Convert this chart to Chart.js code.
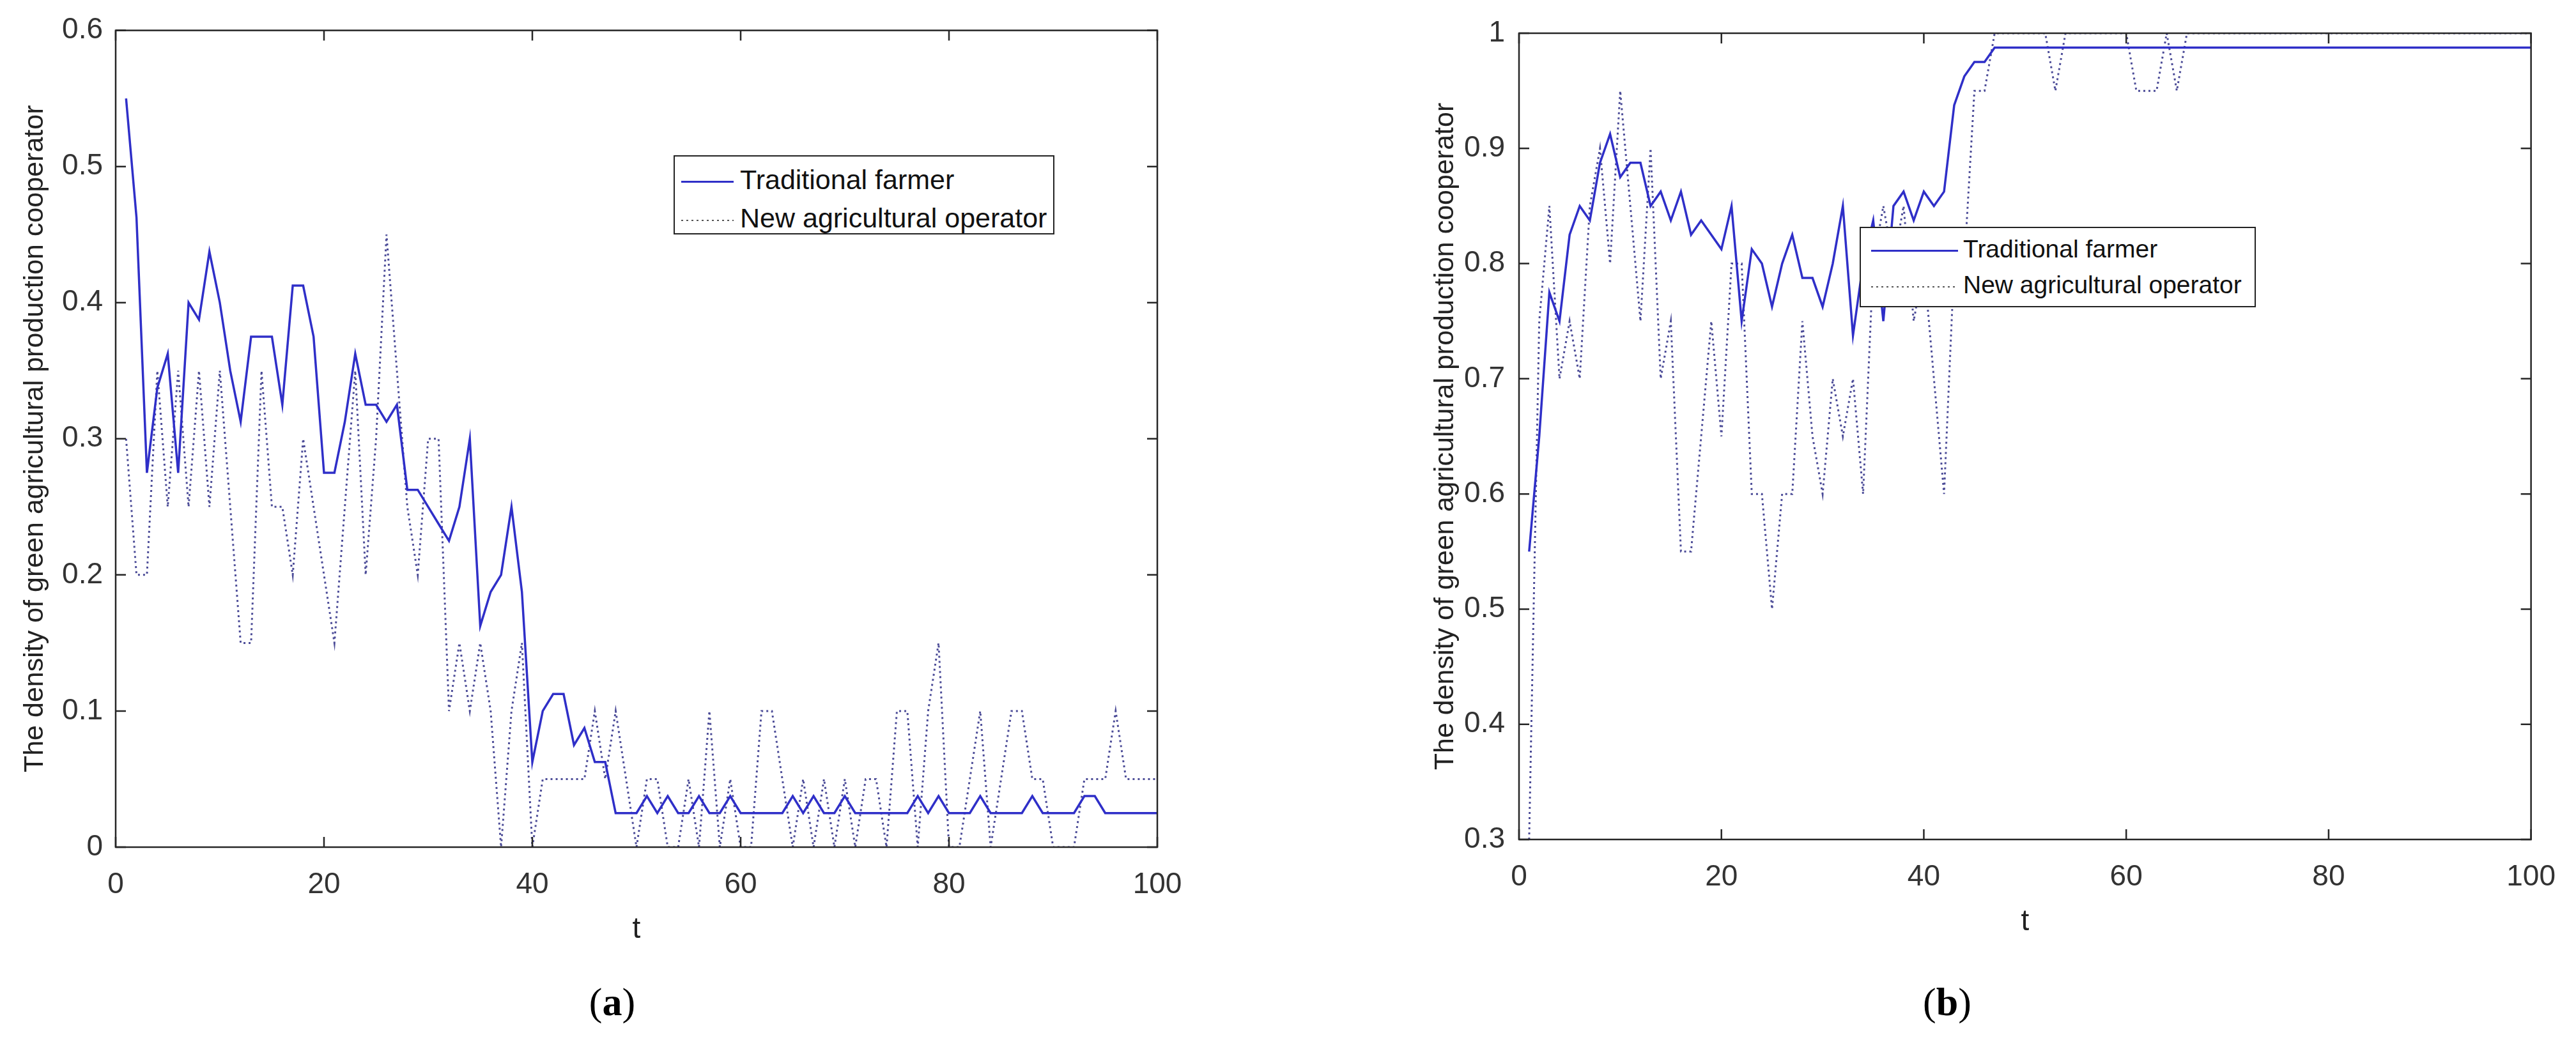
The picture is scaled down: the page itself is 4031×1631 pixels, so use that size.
<!DOCTYPE html>
<html>
<head>
<meta charset="utf-8">
<script src="https://cdn.jsdelivr.net/npm/chart.js@4.4.1/dist/chart.umd.min.js"></script>
<style>
body{margin:0;background:#fff;width:4031px;height:1631px;position:relative;overflow:hidden;font-family:"Liberation Sans",Arial,sans-serif;}
canvas{position:absolute;top:0;}
#chartA{left:0}
#chartB{left:2200px}
.legend{position:absolute;background:#fff;border:2px solid #222;box-sizing:border-box;color:#111}
.legend .row{white-space:nowrap}
.sample{display:inline-block;vertical-align:middle}
.sample.solid{height:3px;background:#2f2fc8}
.sample.dot{height:2px;background:repeating-linear-gradient(90deg,#555 0 3px,transparent 3px 8px)}
#legA{left:1054px;top:243px;width:596px;height:124px;padding-top:6px;font-size:43px}
#legA .row{height:60px;line-height:60px}
#legA .sample{width:82px;margin:0 10px}
#legB{left:2910px;top:355px;width:620px;height:126px;padding-top:5px;font-size:39px}
#legB .row{height:56px;line-height:56px}
#legB .sample{width:136px;margin:0 8px 0 16px}
.cap{position:absolute;width:200px;text-align:center;font-family:"Liberation Serif",serif;font-size:62px;line-height:80px;color:#000}
</style>
</head>
<body>
<canvas id="chartA" width="1900" height="1520"></canvas>
<canvas id="chartB" width="1831" height="1508"></canvas>

<div class="legend" id="legA">
  <div class="row"><span class="sample solid"></span>Traditional farmer</div>
  <div class="row"><span class="sample dot"></span>New agricultural operator</div>
</div>
<div class="legend" id="legB">
  <div class="row"><span class="sample solid"></span>Traditional farmer</div>
  <div class="row"><span class="sample dot"></span>New agricultural operator</div>
</div>

<div class="cap" style="left:858px;top:1528px">(<b>a</b>)</div>
<div class="cap" style="left:2947px;top:1528px">(<b>b</b>)</div>

<script>
// time steps
const tSteps = [1,2,3,4,5,6,7,8,9,10,11,12,13,14,15,16,17,18,19,20,
  21,22,23,24,25,26,27,28,29,30,31,32,33,34,35,36,37,38,39,40,
  41,42,43,44,45,46,47,48,49,50,51,52,53,54,55,56,57,58,59,60,
  61,62,63,64,65,66,67,68,69,70,71,72,73,74,75,76,77,78,79,80,
  81,82,83,84,85,86,87,88,89,90,91,92,93,94,95,96,97,98,99,100];

// (a)
const farmerA = [0.55,0.4625,0.275,0.3375,0.3625,0.275,0.4,0.3875,0.4375,0.4,
  0.35,0.3125,0.375,0.375,0.375,0.325,0.4125,0.4125,0.375,0.275,
  0.275,0.3125,0.3625,0.325,0.325,0.3125,0.325,0.2625,0.2625,0.25,
  0.2375,0.225,0.25,0.3,0.1625,0.1875,0.2,0.25,0.1875,0.0625,
  0.1,0.1125,0.1125,0.075,0.0875,0.0625,0.0625,0.025,0.025,0.025,
  0.0375,0.025,0.0375,0.025,0.025,0.0375,0.025,0.025,0.0375,0.025,
  0.025,0.025,0.025,0.025,0.0375,0.025,0.0375,0.025,0.025,0.0375,
  0.025,0.025,0.025,0.025,0.025,0.025,0.0375,0.025,0.0375,0.025,
  0.025,0.025,0.0375,0.025,0.025,0.025,0.025,0.0375,0.025,0.025,
  0.025,0.025,0.0375,0.0375,0.025,0.025,0.025,0.025,0.025,0.025];
const operatorA = [0.3,0.2,0.2,0.35,0.25,0.35,0.25,0.35,0.25,0.35,
  0.25,0.15,0.15,0.35,0.25,0.25,0.2,0.3,0.25,0.2,
  0.15,0.25,0.35,0.2,0.3,0.45,0.35,0.25,0.2,0.3,
  0.3,0.1,0.15,0.1,0.15,0.1,0,0.1,0.15,0,
  0.05,0.05,0.05,0.05,0.05,0.1,0.05,0.1,0.05,0,
  0.05,0.05,0,0,0.05,0,0.1,0,0.05,0,
  0,0.1,0.1,0.05,0,0.05,0,0.05,0,0.05,
  0,0.05,0.05,0,0.1,0.1,0,0.1,0.15,0,
  0,0.05,0.1,0,0.05,0.1,0.1,0.05,0.05,0,
  0,0,0.05,0.05,0.05,0.1,0.05,0.05,0.05,0.05];

// (b)
const farmerB = [0.55,0.65,0.775,0.75,0.825,0.85,0.8375,0.8875,0.9125,0.875,
  0.8875,0.8875,0.85,0.8625,0.8375,0.8625,0.825,0.8375,0.825,0.8125,
  0.85,0.75,0.8125,0.8,0.7625,0.8,0.825,0.7875,0.7875,0.7625,
  0.8,0.85,0.7375,0.8,0.8375,0.75,0.85,0.8625,0.8375,0.8625,
  0.85,0.8625,0.9375,0.9625,0.975,0.975,0.9875,0.9875,0.9875,0.9875,
  0.9875,0.9875,0.9875,0.9875,0.9875,0.9875,0.9875,0.9875,0.9875,0.9875,
  0.9875,0.9875,0.9875,0.9875,0.9875,0.9875,0.9875,0.9875,0.9875,0.9875,
  0.9875,0.9875,0.9875,0.9875,0.9875,0.9875,0.9875,0.9875,0.9875,0.9875,
  0.9875,0.9875,0.9875,0.9875,0.9875,0.9875,0.9875,0.9875,0.9875,0.9875,
  0.9875,0.9875,0.9875,0.9875,0.9875,0.9875,0.9875,0.9875,0.9875,0.9875];
const operatorB = [0.3,0.75,0.85,0.7,0.75,0.7,0.85,0.9,0.8,0.95,
  0.85,0.75,0.9,0.7,0.75,0.55,0.55,0.65,0.75,0.65,
  0.8,0.8,0.6,0.6,0.5,0.6,0.6,0.75,0.65,0.6,
  0.7,0.65,0.7,0.6,0.8,0.85,0.8,0.85,0.75,0.8,
  0.7,0.6,0.8,0.8,0.95,0.95,1,1,1,1,
  1,1,0.95,1,1,1,1,1,1,1,
  0.95,0.95,0.95,1,0.95,1,1,1,1,1,
  1,1,1,1,1,1,1,1,1,1,
  1,1,1,1,1,1,1,1,1,1,
  1,1,1,1,1,1,1,1,1,1];

const xRange = [0, 100];
const yRangeA = [0, 0.6];
const yRangeB = [0.3, 1];
const yTitle = 'The density of green agricultural production cooperator';
const fam = '"Liberation Sans", Arial, sans-serif';

// matlab style box with ticks pointing inwards
const boxTicks = {
    id: 'boxTicks',
    afterDatasetsDraw(chart) {
        const ctx = chart.ctx;
        const a = chart.chartArea;
        const xs = chart.scales.x, ys = chart.scales.y;
        const len = 16;
        ctx.save();
        ctx.strokeStyle = '#262626';
        ctx.lineWidth = 2.5;
        ctx.beginPath();
        xs.ticks.forEach(tk => {
            const px = xs.getPixelForValue(tk.value);
            ctx.moveTo(px, a.bottom); ctx.lineTo(px, a.bottom - len);
            ctx.moveTo(px, a.top); ctx.lineTo(px, a.top + len);
        });
        ys.ticks.forEach(tk => {
            const py = ys.getPixelForValue(tk.value);
            ctx.moveTo(a.left, py); ctx.lineTo(a.left + len, py);
            ctx.moveTo(a.right, py); ctx.lineTo(a.right - len, py);
        });
        ctx.stroke();
        ctx.strokeRect(a.left, a.top, a.right - a.left, a.bottom - a.top);
        ctx.restore();
    }
};

function chart(id, farmer, operator, yRange, pad, yWidth, titlePad, tickPad) {
    var ctx = document.getElementById(id).getContext('2d');
    let solid = [];
    let dotted = [];
    tSteps.map((t, i) => {
        solid.push({x: t, y: farmer[i]});
        dotted.push({x: t, y: operator[i]});
    });

    return new Chart(ctx, {
        type: 'line',
        data: {
            datasets: [{
                label: 'Traditional farmer',
                data: solid,
                borderColor: '#2f2fc8',
                borderWidth: 3.5,
                pointRadius: 0,
                tension: 0,
                fill: false
            }, {
                label: 'New agricultural operator',
                data: dotted,
                borderColor: 'rgba(55,55,140,0.9)',
                borderWidth: 3,
                borderDash: [3, 5],
                pointRadius: 0,
                tension: 0,
                fill: false
            }]
        },
        options: {
            responsive: false,
            animation: false,
            devicePixelRatio: 1,
            layout: {padding: pad},
            plugins: {legend: {display: false}, tooltip: {enabled: false}},
            scales: {
                x: {
                    type: 'linear',
                    min: xRange[0],
                    max: xRange[1],
                    grid: {display: false, drawTicks: false},
                    border: {display: false},
                    ticks: {stepSize: 20, padding: 32, color: '#333', font: {family: fam, size: 46}},
                    title: {display: true, text: 't', color: '#222', font: {family: fam, size: 46}, padding: {top: 0, bottom: 37}},
                    afterFit: s => { s.height = 194; }
                },
                y: {
                    min: yRange[0],
                    max: yRange[1],
                    grid: {display: false, drawTicks: false},
                    border: {display: false},
                    ticks: {
                        stepSize: 0.1,
                        padding: tickPad,
                        color: '#333',
                        font: {family: fam, size: 46},
                        callback: v => String(+v.toFixed(2))   // "1" not "1.0"
                    },
                    title: {display: true, text: yTitle, color: '#222', font: {family: fam, size: 43}, padding: {top: titlePad, bottom: 0}},
                    afterFit: s => { s.width = yWidth; }
                }
            }
        },
        plugins: [boxTicks]
    });
}

chart('chartA', farmerA, operatorA, yRangeA, {left: 0, top: 40, right: 89, bottom: 0}, 181, 29, 20);
chart('chartB', farmerB, operatorB, yRangeB, {left: 0, top: 52, right: 62, bottom: 0}, 177, 36, 22);
</script>
</body>
</html>
